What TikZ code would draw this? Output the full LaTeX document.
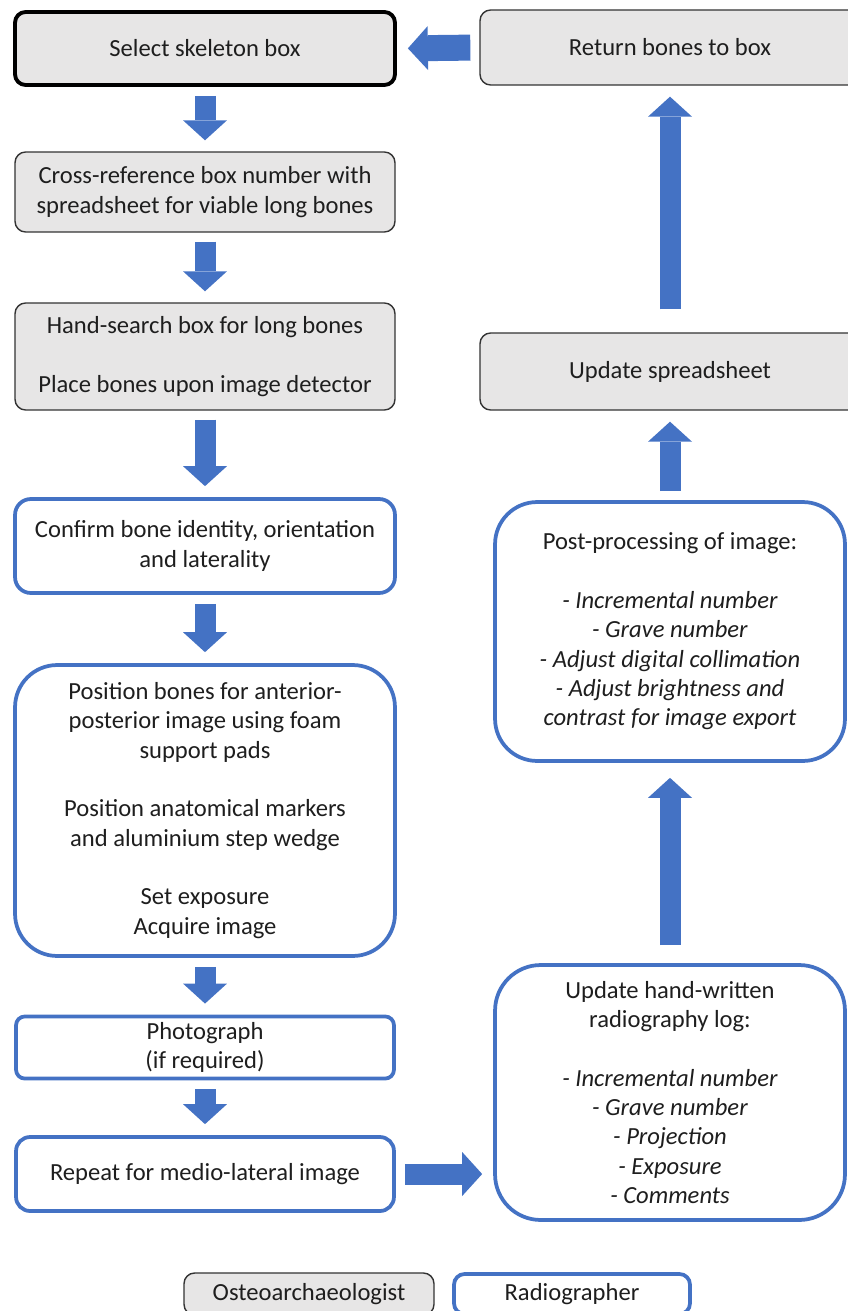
\documentclass[tikz,border=0pt]{standalone}
\usepackage{fontspec}
\setmainfont{Carlito}
\usepackage{tikz}
\usetikzlibrary{arrows.meta,positioning}
\definecolor{boxgrey}{HTML}{E7E6E6}
\definecolor{radblue}{HTML}{4472C4}
\definecolor{txt}{HTML}{1E1E1E}
\newcommand{\boxfont}{\fontsize{14}{16.7}\selectfont}
\newcommand{\gapln}{\\[16.7pt]}

\begin{document}
\begin{tikzpicture}[x=0.02cm, y=-0.02cm,
	ostbox/.style={draw=black!80, line width=0.8pt, fill=boxgrey, rounded corners=6pt,
		align=center, font=\boxfont, text=txt, minimum width=7.6cm},
	radbox/.style={draw=radblue, line width=0.075cm, fill=white, rounded corners=10pt,
		align=center, font=\boxfont, text=txt, minimum width=7.6cm},
	arr/.style={draw=radblue, line width=0.42cm,
		-{Triangle[width=0.88cm, length=0.4cm, line width=0pt]},
		shorten <=0.18cm, shorten >=0.22cm}
]
	\useasboundingbox (0,0) rectangle (848,1311);

	% Left column
	\node[ostbox, line width=2.2pt, draw=black, minimum height=1.46cm] (sel) at (205, 48.5)
		{Select skeleton box};
	\node[ostbox, minimum height=1.6cm] (cross) at (205, 192)
		{Cross-reference box number with\\spreadsheet for viable long bones};
	\node[ostbox, minimum height=2.14cm] (hand) at (205, 356.5)
		{Hand-search box for long bones\gapln Place bones upon image detector};
	\node[radbox, minimum height=1.88cm, rounded corners=9pt] (conf) at (205, 546)
		{Confirm bone identity, orientation\\and laterality};
	\node[radbox, minimum height=5.82cm, rounded corners=24pt] (pos) at (205, 810.5)
		{Position bones for anterior-\\posterior image using foam\\support pads\gapln
		 Position anatomical markers\\and aluminium step wedge\gapln
		 Set exposure\\Acquire image};
	\node[radbox, minimum width=7.56cm, minimum height=1.22cm, rounded corners=5pt] (photo) at (205, 1047.5)
		{Photograph\\(if required)};
	\node[radbox, minimum width=7.56cm, minimum height=1.48cm, rounded corners=8pt] (rep) at (205, 1174)
		{Repeat for medio-lateral image};

	\draw[arr] (sel) -- (cross);
	\draw[arr] (cross) -- (hand);
	\draw[arr] (hand) -- (conf);
	\draw[arr] (conf) -- (pos);
	\draw[arr] (pos) -- (photo);
	\draw[arr] (photo) -- (rep);

	% Right column
	\node[ostbox, minimum height=1.5cm] (ret) at (670, 47.5)
		{Return bones to box};
	\node[ostbox, minimum height=1.54cm] (spread) at (670, 371.5)
		{Update spreadsheet};
	\node[radbox, minimum width=7.0cm, minimum height=5.18cm, rounded corners=24pt] (post) at (670, 631.5)
		{Post-processing of image:\gapln
		 \textit{- Incremental number}\\\textit{- Grave number}\\
		 \textit{- Adjust digital collimation}\\\textit{- Adjust brightness and}\\
		 \textit{contrast for image export}};
	\node[radbox, minimum width=7.0cm, minimum height=5.1cm, rounded corners=26pt] (log) at (670, 1092.5)
		{Update hand-written\\radiography log:\gapln
		 \textit{- Incremental number}\\\textit{- Grave number}\\\textit{- Projection}\\
		 \textit{- Exposure}\\\textit{- Comments}};

	\draw[arr] (rep.east) -- (rep.east -| log.west);
	\draw[arr, shorten <=0.36cm, shorten >=0.3cm] (log) -- (post);
	\draw[arr] (post) -- (spread);
	\draw[arr, shorten <=0.46cm] (spread) -- (ret);
	\draw[arr, line width=0.52cm] (ret.west) -- (sel.east);

	% Legend
	\node[ostbox, minimum width=5.0cm, minimum height=0.84cm] (legost) at (309, 1294)
		{Osteoarchaeologist};
	\node[radbox, minimum width=4.72cm, minimum height=0.8cm, rounded corners=6pt] (legrad) at (572, 1294)
		{Radiographer};
\end{tikzpicture}
\end{document}
